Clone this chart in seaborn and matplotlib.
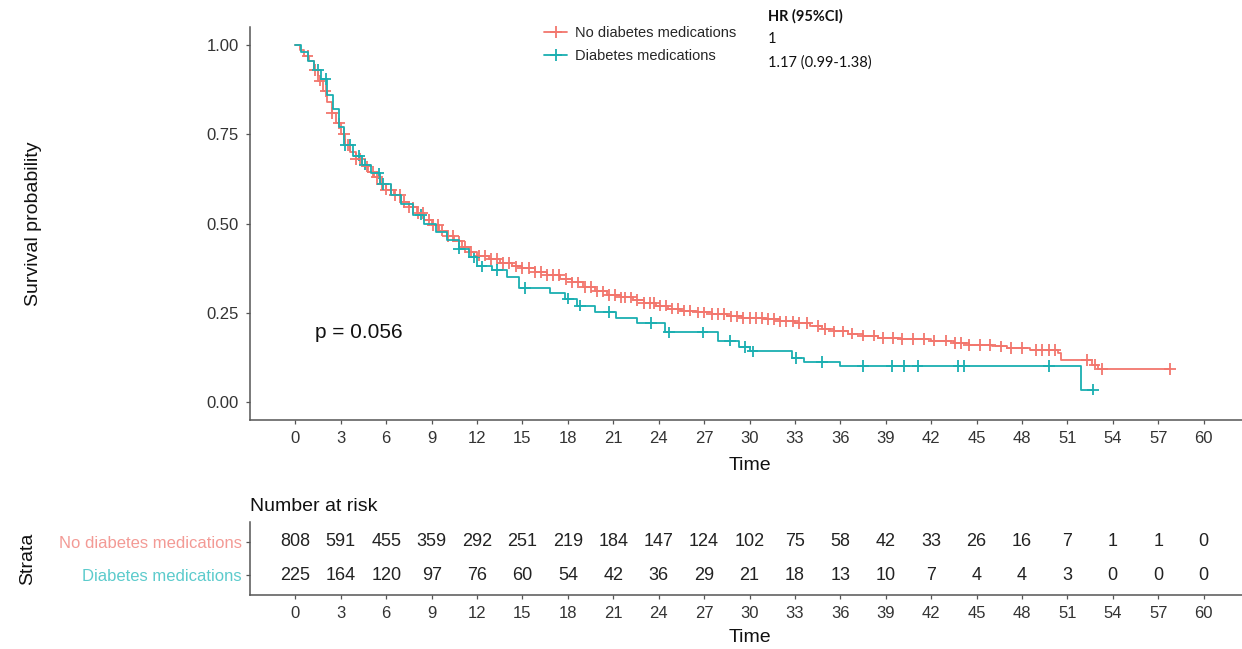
import numpy as np
import pandas as pd
import matplotlib
matplotlib.use("Agg")
import matplotlib.pyplot as plt
from matplotlib.lines import Line2D
import seaborn as sns

# ---- Kaplan-Meier step data (time in months, survival probability) ----
groups = ["No diabetes medications", "Diabetes medications"]
colors = ["#F2766D", "#1AAFB1"]
label_colors = ["#F39A95", "#5CCBCC"]

no_med_time = [0, 0.3, 0.6, 0.9, 1.2, 1.5, 1.8, 2.1, 2.4, 2.7, 3.0, 3.3, 3.6, 4.0,
               4.4, 4.8, 5.2, 5.6, 6.0, 6.5, 7.0, 7.5, 8.0, 8.5, 9.0, 9.5, 10.0,
               10.5, 11.0, 11.5, 12.0, 12.8, 13.5, 14.3, 15.0, 15.8, 16.6, 17.5,
               18.3, 19.0, 19.8, 20.6, 21.5, 22.3, 23.0, 23.8, 24.6, 25.5, 26.5,
               27.5, 28.5, 29.5, 31.0, 32.0, 33.0, 34.0, 34.8, 35.6, 36.5, 37.5,
               38.5, 40.0, 42.0, 43.5, 44.5, 46.0, 47.0, 48.5, 50.4, 50.6, 52.6,
               53.0, 57.8]
no_med_surv = [1.0, 0.985, 0.97, 0.955, 0.93, 0.90, 0.87, 0.84, 0.81, 0.78, 0.75,
               0.72, 0.70, 0.68, 0.66, 0.645, 0.63, 0.61, 0.595, 0.58, 0.56, 0.545,
               0.53, 0.51, 0.495, 0.48, 0.465, 0.45, 0.435, 0.42, 0.41, 0.40, 0.39,
               0.38, 0.375, 0.365, 0.355, 0.345, 0.335, 0.322, 0.31, 0.30, 0.293,
               0.286, 0.278, 0.27, 0.262, 0.256, 0.251, 0.246, 0.24, 0.236, 0.232,
               0.226, 0.222, 0.213, 0.205, 0.198, 0.192, 0.186, 0.18, 0.176, 0.172,
               0.166, 0.16, 0.156, 0.152, 0.146, 0.137, 0.118, 0.105, 0.092, 0.092]

med_time = [0, 0.4, 0.8, 1.2, 1.7, 2.1, 2.5, 2.9, 3.2, 3.8, 4.4, 5.0, 5.6, 6.3,
            7.0, 7.8, 8.5, 9.3, 10.0, 10.8, 11.5, 12.0, 13.0, 14.0, 14.8, 16.8,
            17.8, 18.6, 19.8, 21.2, 22.6, 24.4, 27.9, 29.3, 30.0, 32.8, 33.6,
            36.0, 51.9, 52.7]
med_surv = [1.0, 0.98, 0.955, 0.93, 0.905, 0.86, 0.82, 0.77, 0.72, 0.69, 0.665,
            0.64, 0.61, 0.58, 0.555, 0.525, 0.50, 0.475, 0.455, 0.43, 0.405, 0.38,
            0.37, 0.35, 0.32, 0.305, 0.29, 0.27, 0.252, 0.236, 0.222, 0.195, 0.172,
            0.155, 0.142, 0.124, 0.112, 0.102, 0.035, 0.035]

# censoring times
no_med_cens = [0.8, 1.3, 1.6, 2.0, 2.4, 2.9, 3.2, 3.5, 4.0, 4.3, 4.7, 5.1, 5.4, 5.7,
               6.0, 6.3, 6.6, 6.9, 7.2, 7.5, 7.8, 8.1, 8.4, 8.8, 9.1, 9.4, 9.7, 10.1,
               10.4, 10.8, 11.2, 11.6, 12.1, 12.5, 12.9, 13.3, 13.7, 14.1, 14.6, 15.0,
               15.4, 15.8, 16.2, 16.6, 17.0, 17.4, 17.9, 18.3, 18.7, 19.1, 19.5, 19.9,
               20.3, 20.7, 21.1, 21.5, 21.8, 22.2, 22.6, 23.0, 23.4, 23.7, 24.1, 24.5,
               24.9, 25.3, 25.7, 26.1, 26.6, 27.0, 27.5, 27.9, 28.3, 28.8, 29.2, 29.6,
               30.0, 30.4, 30.8, 31.2, 31.6, 32.0, 32.4, 32.9, 33.3, 33.8, 34.5, 35.0,
               35.6, 36.2, 36.8, 37.5, 38.2, 38.8, 39.5, 40.1, 40.8, 41.5, 42.2, 43.0,
               43.6, 44.0, 44.5, 45.2, 45.9, 46.6, 47.3, 48.0, 48.9, 49.3, 49.8, 50.2,
               52.3, 52.8, 53.3, 57.8]
med_cens = [1.5, 2.0, 3.3, 3.6, 4.2, 4.6, 5.5, 5.8, 8.3, 10.8, 11.8, 12.3, 13.3,
            15.2, 18.0, 18.8, 20.7, 23.5, 24.7, 26.9, 28.7, 29.7, 30.2, 33.1, 34.8,
            37.5, 39.4, 40.2, 41.1, 43.8, 44.2, 49.8, 52.7]

# ---- number at risk ----
risk_times = [0, 3, 6, 9, 12, 15, 18, 21, 24, 27, 30, 33, 36, 39, 42, 45, 48, 51, 54, 57, 60]
risk_no_med = [808, 591, 455, 359, 292, 251, 219, 184, 147, 124, 102, 75, 58, 42, 33, 26, 16, 7, 1, 1, 0]
risk_med = [225, 164, 120, 97, 76, 60, 54, 42, 36, 29, 21, 18, 13, 10, 7, 4, 4, 3, 0, 0, 0]

p_label = "p = 0.056"
hr_header = "HR (95%CI)"
hr_values = ["1", "1.17 (0.99-1.38)"]

# ---- tidy frames ----
curves = pd.concat([
    pd.DataFrame({"time": no_med_time, "surv": no_med_surv, "group": groups[0]}),
    pd.DataFrame({"time": med_time, "surv": med_surv, "group": groups[1]}),
], ignore_index=True)


def censor_frame(times, surv, cens, name):
    t = np.asarray(times)
    s = np.asarray(surv)
    idx = np.searchsorted(t, np.asarray(cens), side="right") - 1
    return pd.DataFrame({"time": cens, "surv": s[idx], "group": name})


censors = pd.concat([
    censor_frame(no_med_time, no_med_surv, no_med_cens, groups[0]),
    censor_frame(med_time, med_surv, med_cens, groups[1]),
], ignore_index=True)

# ---- figure ----
sns.set_theme(style="ticks")
plt.rcParams["font.family"] = ["Liberation Sans", "DejaVu Sans"]

W, H = 1242, 649
fig = plt.figure(figsize=(W / 100, H / 100), dpi=100)

x_left = 250 / W
x_width = 999 / W
ax = fig.add_axes([x_left, 1 - 420 / H, x_width, (420 - 27) / H])
axt = fig.add_axes([x_left, 1 - 595 / H, x_width, (595 - 522) / H])

palette = dict(zip(groups, colors))

sns.lineplot(data=curves, x="time", y="surv", hue="group", hue_order=groups,
             palette=palette, drawstyle="steps-post", estimator=None,
             linewidth=1.3, legend=False, ax=ax)
sns.scatterplot(data=censors, x="time", y="surv", hue="group", hue_order=groups,
                palette=palette, marker="+", s=70, linewidth=1.3, legend=False, ax=ax)

ax.set_xlim(-3, 63)
ax.set_ylim(-0.05, 1.05)
ax.set_xticks(risk_times)
ax.set_yticks([0, 0.25, 0.5, 0.75, 1.0])
ax.set_yticklabels(["0.00", "0.25", "0.50", "0.75", "1.00"])
ax.set_xlabel("Time", fontsize=14, labelpad=8, color="#111111")
ax.set_ylabel("Survival probability", fontsize=14, labelpad=0, color="#111111")
ax.yaxis.set_label_coords(-208 / 999, 0.5)
ax.text(1.3, 0.195, p_label, fontsize=15, ha="left", va="center", color="#111111")

for a in (ax, axt):
    sns.despine(ax=a)
    for side in ("left", "bottom"):
        a.spines[side].set_color("#555555")
        a.spines[side].set_linewidth(1.1)
    a.tick_params(axis="both", length=3, width=0.9, color="#555555",
                  labelsize=12, labelcolor="#333333", pad=5)

# ---- risk table ----
for t, n1, n2 in zip(risk_times, risk_no_med, risk_med):
    axt.text(t, 2, str(n1), ha="center", va="center", fontsize=13, color="#222222")
    axt.text(t, 1, str(n2), ha="center", va="center", fontsize=13, color="#222222")
axt.set_xlim(-3, 63)
axt.set_ylim(0.4, 2.6)
axt.set_xticks(risk_times)
axt.set_yticks([2, 1])
axt.set_yticklabels(groups)
axt.tick_params(axis="y", pad=3)
for lab, c in zip(axt.get_yticklabels(), label_colors):
    lab.set_color(c)
axt.set_xlabel("Time", fontsize=14, labelpad=6, color="#111111")
axt.set_ylabel("Strata", fontsize=14, color="#111111")
axt.yaxis.set_label_coords(-214 / 999, 0.5)
axt.set_title("Number at risk", loc="left", fontsize=14, pad=8, color="#111111")

# ---- legend and hazard ratios ----
handles = [Line2D([0], [0], color=c, marker="+", markersize=8, mew=1.3, lw=1.3)
           for c in colors]
fig.legend(handles, groups, loc="upper left", bbox_to_anchor=(544 / W, 1 - 26 / H),
           frameon=False, fontsize=10.5, handlelength=1.6, handletextpad=0.5,
           labelspacing=0.65, borderaxespad=0, borderpad=0)

fig.text(768 / W, 1 - 16 / H, hr_header, fontsize=10.5, fontweight="bold",
         family="Lato", ha="left", va="center", color="#111111")
for i, v in enumerate(hr_values):
    fig.text(768 / W, 1 - (39 + 24 * i) / H, v, fontsize=10.5, family="Lato",
             ha="left", va="center", color="#111111")

fig.savefig("out.png", dpi=100)
